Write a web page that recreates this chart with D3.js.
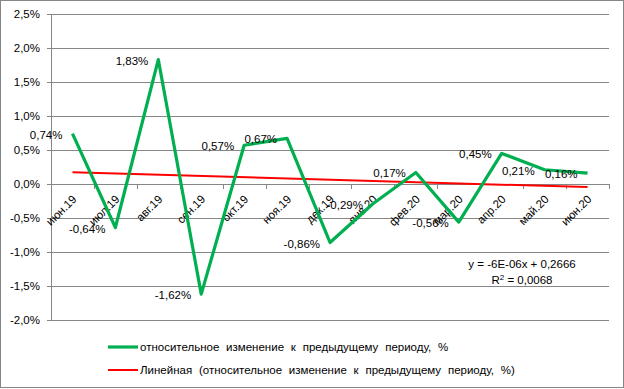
<!DOCTYPE html>
<html><head><meta charset="utf-8">
<script src="https://cdn.jsdelivr.net/npm/d3@7"></script>
<style>
body{margin:0;background:#fff;}
svg{display:block;font-family:"Liberation Sans",Arial,sans-serif;}
</style></head>
<body>
<svg id="c" width="624" height="389"></svg>
<script>
const categories = ["июн.19","июл.19","авг.19","сен.19","окт.19","ноя.19","дек.19","янв.20","фев.20","мар.20","апр.20","май.20","июн.20"];
const values = [0.74,-0.64,1.83,-1.62,0.57,0.67,-0.86,-0.29,0.17,-0.56,0.45,0.21,0.16];
const yTicks = [2.5,2.0,1.5,1.0,0.5,0.0,-0.5,-1.0,-1.5,-2.0];
const seriesName = "относительное изменение к предыдущему периоду, %";
const trendName = "Линейная (относительное изменение к предыдущему периоду, %)";
const equation = "y = -6E-06x + 0,2666";
const r2Text = "0,0068";

const svg = d3.select("#c");
const L = 51, R = 609, T = 14, B = 320;
const x = d3.scaleBand().domain(categories).range([L, R]).padding(0);
const y = d3.scaleLinear().domain([-2, 2.5]).range([B, T]);
const fmt = v => v.toFixed(1).replace(".", ",") + "%";
const fmt2 = v => v.toFixed(2).replace(".", ",") + "%";
const cx = d => x(d) + x.bandwidth() / 2;

// outer border
svg.append("rect").attr("x", 0.5).attr("y", 0.5).attr("width", 623).attr("height", 387)
  .attr("fill", "#fff").attr("stroke", "#868686").attr("stroke-width", 1);

// gridlines
svg.append("g").selectAll("line").data(yTicks).join("line")
  .attr("x1", L - 4).attr("x2", R).attr("y1", d => Math.round(y(d)) + 0.5).attr("y2", d => Math.round(y(d)) + 0.5)
  .attr("stroke", "#868686").attr("stroke-width", 1);
// y axis line
svg.append("line").attr("x1", L + 0.5).attr("x2", L + 0.5).attr("y1", T).attr("y2", B + 1)
  .attr("stroke", "#868686");
// y labels
svg.append("g").selectAll("text").data(yTicks).join("text")
  .attr("x", 40).attr("y", d => y(d)).attr("dy", "0.35em").attr("text-anchor", "end")
  .attr("font-size", 11.5).attr("fill", "#000").text(fmt);

// x tick marks at category boundaries
const bounds = categories.map(c => x(c)).concat([R]);
svg.append("g").selectAll("line").data(bounds).join("line")
  .attr("x1", d => Math.round(d) + 0.5).attr("x2", d => Math.round(d) + 0.5)
  .attr("y1", y(0)).attr("y2", y(0) + 5).attr("stroke", "#868686");

// x labels
svg.append("g").selectAll("text").data(categories).join("text")
  .attr("transform", d => `translate(${cx(d) + 2},${y(0) + 13}) rotate(-45)`)
  .attr("text-anchor", "end").attr("dy", "0.35em")
  .attr("font-size", 11.5).attr("fill", "#000").text(d => d);

// trend line (least squares on category index)
const n = values.length;
const xs = d3.range(1, n + 1);
const mx = d3.mean(xs), my = d3.mean(values);
const slope = d3.sum(xs, (xi, i) => (xi - mx) * (values[i] - my)) / d3.sum(xs, xi => (xi - mx) ** 2);
const icpt = my - slope * mx;
svg.append("line")
  .attr("x1", cx(categories[0])).attr("y1", y(icpt + slope * 1))
  .attr("x2", cx(categories[n - 1])).attr("y2", y(icpt + slope * n))
  .attr("stroke", "#ff0000").attr("stroke-width", 2);

// series line
svg.append("path").datum(values)
  .attr("d", d3.line().x((d, i) => cx(categories[i])).y(d => y(d)))
  .attr("fill", "none").attr("stroke", "#00b050").attr("stroke-width", 3.2).attr("stroke-linejoin", "round");

// data labels (left)
svg.append("g").selectAll("text").data(values).join("text")
  .attr("x", (d, i) => cx(categories[i]) - 10).attr("y", d => y(d) + 1).attr("dy", "0.35em")
  .attr("text-anchor", "end").attr("font-size", 11.5).attr("fill", "#000").text(fmt2);

// equation
svg.append("text").attr("x", 522).attr("y", 268).attr("text-anchor", "middle")
  .attr("font-size", 11.5).text(equation);
const r2 = svg.append("text").attr("x", 522).attr("y", 284).attr("text-anchor", "middle").attr("font-size", 11.5);
r2.append("tspan").text("R");
r2.append("tspan").attr("dy", -4).attr("font-size", 8).text("2");
r2.append("tspan").attr("dy", 4).text(" = " + r2Text);

// legend
const leg = [{name: seriesName, color: "#00b050", w: 3.2, y: 347}, {name: trendName, color: "#ff0000", w: 2, y: 370}];
const lg = svg.append("g").selectAll("g").data(leg).join("g");
lg.append("line").attr("x1", 108).attr("x2", 138).attr("y1", d => d.y).attr("y2", d => d.y)
  .attr("stroke", d => d.color).attr("stroke-width", d => d.w);
lg.append("text").attr("x", 140).attr("y", d => d.y).attr("dy", "0.35em")
  .attr("font-size", 11.5).attr("word-spacing", 3.6).text(d => d.name);
</script>
</body></html>
